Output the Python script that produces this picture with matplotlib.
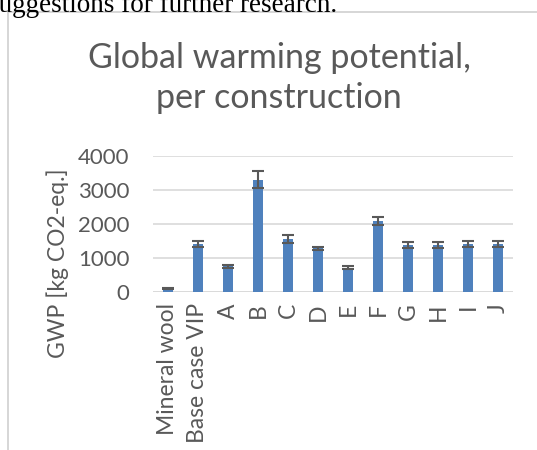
import numpy as np
import matplotlib.pyplot as plt
from matplotlib.patches import Rectangle

# data
categories = ["Mineral wool", "Base case VIP", "A", "B", "C", "D", "E", "F", "G", "H", "I", "J"]
gwp = [110, 1400, 760, 3300, 1550, 1280, 720, 2090, 1390, 1390, 1400, 1400]
gwp_err = [20, 90, 45, 250, 120, 50, 50, 120, 90, 90, 90, 90]
yticks = [0, 1000, 2000, 3000, 4000]

plt.rcParams['font.family'] = ['Lato', 'DejaVu Sans']
text_col = '#595959'

fig = plt.figure(figsize=(5.37, 4.5), dpi=100)

# document text cut off at the top
fig.text(-0.022, 1.0 + 0.016, "suggestions for further research.", family=['Liberation Serif'],
         fontsize=19.5, color='black', ha='left', va='top')

# chart frame
fig.patches.append(Rectangle((8 / 537, -0.01), 1.0, 1 - 12 / 450 + 0.01, transform=fig.transFigure,
                             fill=False, edgecolor='#d0d0d0', linewidth=1.2))

ax = fig.add_axes([153 / 537, 1 - 292 / 450, 360 / 537, 136 / 450])
x = np.arange(len(categories))
ax.bar(x, gwp, width=0.35, color='#4f81bd', zorder=3)
ax.errorbar(x, gwp, yerr=gwp_err, fmt='none', ecolor='#595959', elinewidth=1.5,
            capsize=4, capthick=1.5, zorder=4)

ax.set_xlim(-0.5, len(categories) - 0.5)
ax.set_ylim(0, 4000)
ax.set_yticks(yticks)
ax.set_yticklabels([str(v) for v in yticks], fontsize=16, color=text_col)
ax.set_xticks(x)
ax.set_xticklabels(categories, rotation=90, fontsize=16.5, color=text_col)
ax.tick_params(length=0, pad=8)
ax.tick_params(axis='y', pad=17)
ax.grid(axis='y', color='#d9d9d9', linewidth=1.2, zorder=0)
for s in ax.spines.values():
    s.set_visible(False)
ax.axhline(0, color='#d9d9d9', linewidth=1.2, zorder=2)

fig.text(279 / 537, 1 - 68 / 450, "Global warming potential,", fontsize=24.5, color=text_col,
         ha='center', va='baseline')
fig.text(279 / 537, 1 - 108 / 450, "per construction", fontsize=24.5, color=text_col,
         ha='center', va='baseline')

fig.text(58 / 537, 1 - 263 / 450, "GWP [kg CO2-eq.]", fontsize=16.5, color=text_col,
         rotation=90, ha='center', va='center')

fig.savefig('out.png', dpi=100)
